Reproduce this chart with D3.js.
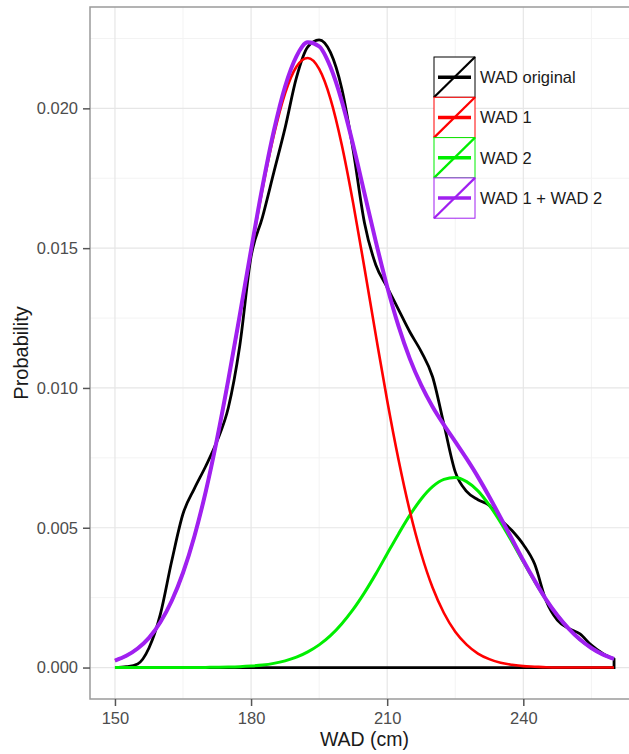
<!DOCTYPE html>
<html>
<head>
<meta charset="utf-8">
<script src="https://cdn.jsdelivr.net/npm/d3@7"></script>
<style>
  body { margin: 0; background: #fff; }
  svg { display: block; font-family: "Liberation Sans", Arial, sans-serif; }
</style>
</head>
<body>
<script>
// WAD values (cm), sampled every 2.5 cm
var wadX = [150, 152.5, 155, 157.5, 160, 162.5, 165, 167.5, 170, 172.5,
            175, 177.5, 180, 182.5, 185, 187.5, 190, 192.5, 195, 197.5,
            200, 202.5, 205, 207.5, 210, 212.5, 215, 217.5, 220, 222.5,
            225, 227.5, 230, 232.5, 235, 237.5, 240, 242.5, 245, 247.5,
            250, 252.5, 255, 257.5, 260];

// density of the original data
var wadOriginal = [0.0000, 0.00003, 0.00013, 0.0007, 0.0019, 0.0038, 0.0055, 0.0064, 0.0072, 0.0081,
                   0.0093, 0.0115, 0.0147, 0.0161, 0.0177, 0.0193, 0.0211, 0.0222, 0.02245, 0.0220,
                   0.0207, 0.0185, 0.0159, 0.0144, 0.0136, 0.0128, 0.0120, 0.0113, 0.0104, 0.0087,
                   0.0070, 0.0063, 0.0060, 0.0058, 0.0053, 0.0049, 0.0044, 0.0037, 0.0024, 0.0017,
                   0.0014, 0.0012, 0.0008, 0.0005, 0.0003];

// first component
var wad1 = [0.00025, 0.00042, 0.00068, 0.00106, 0.00162, 0.00238, 0.00339, 0.00469, 0.00628, 0.00817,
            0.01029, 0.01257, 0.01489, 0.01710, 0.01903, 0.02054, 0.02149, 0.02180, 0.02141, 0.02034,
            0.01869, 0.01661, 0.01428, 0.01188, 0.00955, 0.00743, 0.00559, 0.00407, 0.00286, 0.00195,
            0.00128, 0.00082, 0.00050, 0.00030, 0.00017, 0.00010, 0.00005, 0.00003, 0.00001, 0,
            0, 0, 0, 0, 0];

// second component
var wad2 = [0, 0, 0, 0, 0, 0, 0, 0, 0.000005, 0.00001,
            0.000017, 0.00003, 0.000054, 0.00009, 0.00015, 0.00024, 0.00037, 0.00056, 0.00081, 0.00114,
            0.00157, 0.00208, 0.00268, 0.00335, 0.00407, 0.00478, 0.00545, 0.00603, 0.00647, 0.00673,
            0.00680, 0.00665, 0.00632, 0.00581, 0.00519, 0.00450, 0.00378, 0.00308, 0.00243, 0.00187,
            0.00139, 0.00100, 0.00070, 0.00047, 0.00031];

// mixture WAD 1 + WAD 2
var wadSum = [0.00025, 0.00042, 0.00068, 0.00106, 0.00162, 0.00238, 0.00339, 0.00469, 0.00629, 0.00818,
              0.01031, 0.01260, 0.01494, 0.01719, 0.01918, 0.02078, 0.02186, 0.02236, 0.02222, 0.02148,
              0.02026, 0.01869, 0.01696, 0.01523, 0.01362, 0.01221, 0.01104, 0.01010, 0.00933, 0.00868,
              0.00808, 0.00747, 0.00682, 0.00611, 0.00536, 0.00460, 0.00383, 0.00311, 0.00244, 0.00187,
              0.00139, 0.00100, 0.00070, 0.00047, 0.00031];

var xTicks = [150, 180, 210, 240];
var xMinor = [165, 195, 225, 255];
var yTicks = [0, 0.005, 0.010, 0.015, 0.020];
var yMinor = [0.0025, 0.0075, 0.0125, 0.0175, 0.0225];

var seriesNames = ["WAD original", "WAD 1", "WAD 2", "WAD 1 + WAD 2"];
var seriesColors = ["#000000", "#ff0000", "#00ee00", "#a020f0"];

// panel box
var panel = {left: 90, right: 639, top: 7, bottom: 699};

var svg = d3.select("body").append("svg")
    .attr("width", 629)
    .attr("height", 754);

var x = d3.scaleLinear().domain([144.5, 265.5]).range([panel.left, panel.right]);
var y = d3.scaleLinear().domain([-0.001125, 0.023625]).range([panel.bottom, panel.top]);

// grid
var grid = svg.append("g");
grid.selectAll(".xminor").data(xMinor).enter().append("line")
    .attr("x1", d => x(d)).attr("x2", d => x(d))
    .attr("y1", panel.top).attr("y2", panel.bottom)
    .attr("stroke", "#f3f3f3").attr("stroke-width", 1);
grid.selectAll(".yminor").data(yMinor).enter().append("line")
    .attr("x1", panel.left).attr("x2", panel.right)
    .attr("y1", d => y(d)).attr("y2", d => y(d))
    .attr("stroke", "#f3f3f3").attr("stroke-width", 1);
grid.selectAll(".xmajor").data(xTicks).enter().append("line")
    .attr("x1", d => x(d)).attr("x2", d => x(d))
    .attr("y1", panel.top).attr("y2", panel.bottom)
    .attr("stroke", "#e6e6e6").attr("stroke-width", 1.2);
grid.selectAll(".ymajor").data(yTicks).enter().append("line")
    .attr("x1", panel.left).attr("x2", panel.right)
    .attr("y1", d => y(d)).attr("y2", d => y(d))
    .attr("stroke", "#e6e6e6").attr("stroke-width", 1.2);

// curves
function pts(vals) {
  return wadX.map(function(d, i) { return [d, vals[i]]; });
}

var line = d3.line()
    .x(function(d) { return x(d[0]); })
    .y(function(d) { return y(d[1]); })
    .curve(d3.curveMonotoneX);

// original density is drawn as an outline down to zero
var outline = d3.area()
    .x(function(d) { return x(d[0]); })
    .y0(y(0))
    .y1(function(d) { return y(d[1]); })
    .curve(d3.curveMonotoneX);

svg.append("path")
    .datum(pts(wadOriginal))
    .attr("fill", "none")
    .attr("stroke", seriesColors[0])
    .attr("stroke-width", 2.8)
    .attr("d", outline);

svg.append("path")
    .datum(pts(wad2))
    .attr("fill", "none")
    .attr("stroke", seriesColors[2])
    .attr("stroke-width", 3)
    .attr("d", line);

svg.append("path")
    .datum(pts(wad1))
    .attr("fill", "none")
    .attr("stroke", seriesColors[1])
    .attr("stroke-width", 2.6)
    .attr("d", line);

svg.append("path")
    .datum(pts(wadSum))
    .attr("fill", "none")
    .attr("stroke", seriesColors[3])
    .attr("stroke-width", 4)
    .attr("d", line);

// panel border
svg.append("rect")
    .attr("x", panel.left).attr("y", panel.top)
    .attr("width", panel.right - panel.left)
    .attr("height", panel.bottom - panel.top)
    .attr("fill", "none")
    .attr("stroke", "#9a9a9a")
    .attr("stroke-width", 1.5);

// axes
var yAxis = svg.append("g")
    .attr("transform", "translate(" + panel.left + ",0)")
    .call(d3.axisLeft(y).tickValues(yTicks).tickFormat(d3.format(".3f")).tickSize(7).tickPadding(5));

var xAxis = svg.append("g")
    .attr("transform", "translate(0," + panel.bottom + ")")
    .call(d3.axisBottom(x).tickValues(xTicks).tickSize(7).tickPadding(6));

[xAxis, yAxis].forEach(function(a) {
  a.select(".domain").remove();
  a.selectAll(".tick line").attr("stroke", "#555").attr("stroke-width", 1.5);
  a.selectAll(".tick text")
    .attr("fill", "#4d4d4d")
    .style("font-size", "16.5px")
    .style("font-family", "'Liberation Sans', Arial, sans-serif");
});

// axis titles
svg.append("text")
    .attr("x", (panel.left + panel.right) / 2)
    .attr("y", 746)
    .attr("text-anchor", "middle")
    .attr("fill", "#1a1a1a")
    .style("font-size", "19.5px")
    .text("WAD (cm)");

svg.append("text")
    .attr("transform", "translate(28," + ((panel.top + panel.bottom) / 2) + ") rotate(-90)")
    .attr("text-anchor", "middle")
    .attr("fill", "#1a1a1a")
    .style("font-size", "20px")
    .text("Probability");

// legend
var keyW = 41, keyH = 40.3;
var legend = svg.append("g").attr("transform", "translate(434,57)");
seriesNames.forEach(function(name, i) {
  var g = legend.append("g").attr("transform", "translate(0," + (i * keyH) + ")");
  g.append("rect")
      .attr("width", keyW).attr("height", keyH)
      .attr("fill", "#fff")
      .attr("stroke", seriesColors[i])
      .attr("stroke-width", 1);
  g.append("line")
      .attr("x1", 0).attr("y1", keyH)
      .attr("x2", keyW).attr("y2", 0)
      .attr("stroke", seriesColors[i])
      .attr("stroke-width", 2.2);
  g.append("line")
      .attr("x1", 4).attr("x2", keyW - 4)
      .attr("y1", keyH / 2).attr("y2", keyH / 2)
      .attr("stroke", seriesColors[i])
      .attr("stroke-width", 3.5);
  g.append("text")
      .attr("x", keyW + 5)
      .attr("y", keyH / 2)
      .attr("dy", "0.36em")
      .attr("fill", "#1a1a1a")
      .style("font-size", "16.5px")
      .text(name);
});
</script>
</body>
</html>
